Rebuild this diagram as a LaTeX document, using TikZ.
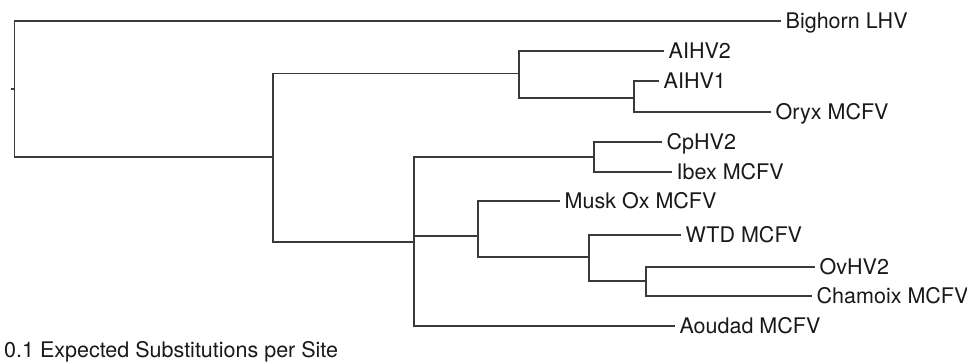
\documentclass[tikz,border=0pt]{standalone}
\usepackage{fontspec}
\setmainfont{TeX Gyre Heros}
\definecolor{branchgray}{RGB}{58,58,58}
\definecolor{labelink}{RGB}{25,25,25}
\begin{document}
\begin{tikzpicture}[x=1pt, y=-1pt,
  branch/.style={draw=branchgray, line width=1.25pt},
  leaf/.style={anchor=west, inner xsep=4.5pt, inner ysep=0pt,
    text height=15.4pt, text depth=0pt, text=labelink,
    font=\fontsize{21.5}{24}\selectfont},
  scalenote/.style={anchor=base west, inner sep=0pt, text=labelink,
    font=\fontsize{21.5}{24}\selectfont}]
\useasboundingbox (0,0) rectangle (967,362);

% leaves (placed at the tip of each branch)
\node[leaf] (bighorn) at (781,21)  {Bighorn LHV};
\node[leaf] (aihv2)   at (664,51)  {AIHV2};
\node[leaf] (aihv1)   at (659,81)  {AIHV1};
\node[leaf] (oryx)    at (771,112) {Oryx MCFV};
\node[leaf] (cphv2)   at (662,142) {CpHV2};
\node[leaf] (ibex)    at (672,172) {Ibex MCFV};
\node[leaf] (muskox)  at (560,201) {Musk Ox MCFV};
\node[leaf] (wtd)     at (681,235) {WTD MCFV};
\node[leaf] (ovhv2)   at (815,267) {OvHV2};
\node[leaf] (chamoix) at (812,296) {Chamoix MCFV};
\node[leaf] (aoudad)  at (675,326) {Aoudad MCFV};

% internal nodes: x of the vertical bar, y where the parent branch meets it
\coordinate (stem) at (11,89);
\coordinate (root) at (14.5,89);
\coordinate (n1)   at (273,157);
\coordinate (n2)   at (519,73.5);
\coordinate (n3)   at (634,98);
\coordinate (n4)   at (414,242);
\coordinate (n5)   at (478,236);
\coordinate (n6)   at (594,157);
\coordinate (n7)   at (589,257);
\coordinate (n8)   at (646,281);

% branches
\draw[branch] (stem) -- (root);
\draw[branch] (bighorn.west) -| (root) |- (n1);
\draw[branch] (n2) -| (n1) |- (n4);
\draw[branch] (aihv2.west) -| (n2) |- (n3);
\draw[branch] (aihv1.west) -| (n3) |- (oryx.west);
\draw[branch] (n6) -| (n4) |- (aoudad.west);
\draw[branch] (n4 |- n5) -- (n5);
\draw[branch] (cphv2.west) -| (n6) |- (ibex.west);
\draw[branch] (muskox.west) -| (n5) |- (n7);
\draw[branch] (wtd.west) -| (n7) |- (n8);
\draw[branch] (ovhv2.west) -| (n8) |- (chamoix.west);

% scale note
\node[scalenote] (scale) at (4,357) {0.1 Expected Substitutions per Site};
\end{tikzpicture}
\end{document}
